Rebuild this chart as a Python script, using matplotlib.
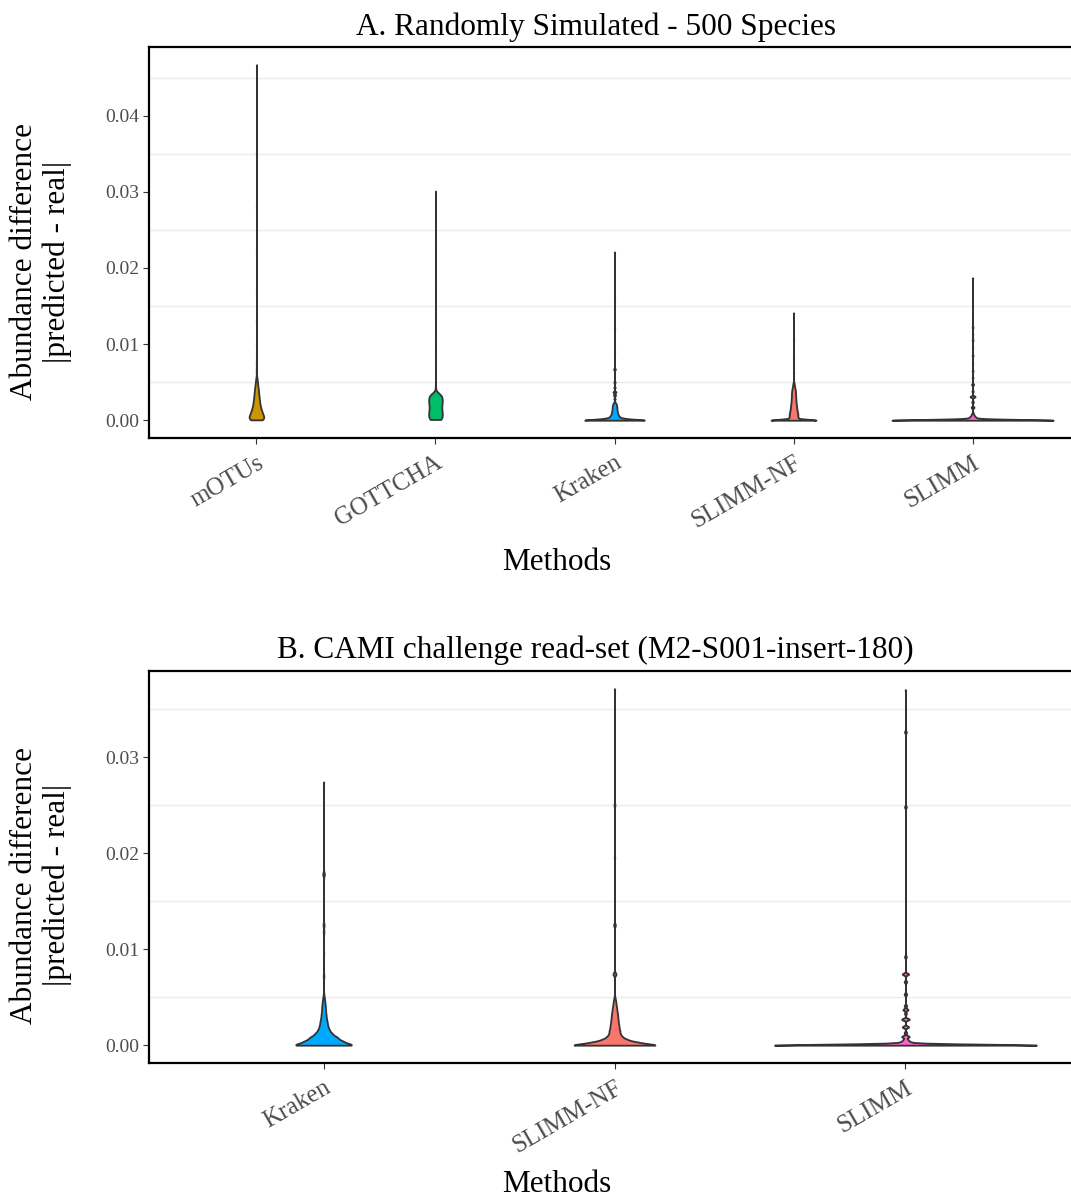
import numpy as np
import matplotlib
matplotlib.use("Agg")
import matplotlib.pyplot as plt
from matplotlib.transforms import ScaledTranslation

# Abundance differences |predicted - real|, stored as distinct values with counts.
# A. randomly simulated community (500 species)
SIM_METHODS = ["mOTUs", "GOTTCHA", "Kraken", "SLIMM-NF", "SLIMM"]

SIM_MOTUS_VALUES = [0.00005, 0.0005, 0.001, 0.0015, 0.002, 0.0025, 0.003, 0.0035,
                    0.004, 0.0045, 0.005, 0.0055, 0.0065, 0.0075, 0.0085, 0.010,
                    0.013, 0.017, 0.022, 0.028, 0.035, 0.0467]
SIM_MOTUS_COUNTS = [60, 70, 56, 44, 35, 30, 26, 22, 19, 14, 10, 6, 3, 2, 1, 1,
                    1, 1, 1, 1, 1, 1]

SIM_GOTTCHA_VALUES = [0.0001, 0.0006, 0.0011, 0.0016, 0.0021, 0.0026, 0.0031, 0.0035,
                      0.0045, 0.0055, 0.007, 0.0085, 0.011, 0.014, 0.018, 0.023, 0.0301]
SIM_GOTTCHA_COUNTS = [58, 66, 64, 58, 62, 66, 60, 28, 2, 1, 1, 1, 1, 1, 1, 1, 1]

SIM_KRAKEN_VALUES = [0.0, 0.0001, 0.0002, 0.0003, 0.0005, 0.0007, 0.0009, 0.0011,
                     0.0013, 0.0015, 0.0017, 0.0019, 0.0021, 0.0023, 0.0028, 0.0033,
                     0.0037, 0.0043, 0.005, 0.0067, 0.009, 0.012, 0.016, 0.0221]
SIM_KRAKEN_COUNTS = [125, 22, 22, 20, 19, 14, 12, 11, 10, 9, 9, 8, 7, 4, 3, 5,
                     7, 3, 3, 4, 1, 1, 1, 1]

SIM_SLIMMNF_VALUES = [0.0, 0.0004, 0.0007, 0.001, 0.0013, 0.0016, 0.0019, 0.0022,
                      0.0025, 0.0028, 0.0031, 0.0034, 0.0037, 0.004, 0.0043, 0.0046,
                      0.0049, 0.0062, 0.008, 0.0105, 0.0141]
SIM_SLIMMNF_COUNTS = [139, 26, 24, 23, 20, 18, 17, 15, 14, 13, 12, 12, 11, 10, 7, 5,
                      3, 1, 1, 1, 1]

SIM_SLIMM_VALUES = [0.0, 0.0002, 0.0004, 0.0006, 0.0008, 0.001, 0.0017, 0.0024,
                    0.0031, 0.0038, 0.0047, 0.0056, 0.0065, 0.0075, 0.0085, 0.0095,
                    0.0105, 0.0113, 0.0122, 0.0187]
SIM_SLIMM_COUNTS = [380, 22, 12, 7, 4, 2, 7, 4, 12, 3, 5, 2, 2, 1, 2, 1, 2, 1, 2, 1]

# B. CAMI challenge read-set
CAMI_METHODS = ["Kraken", "SLIMM-NF", "SLIMM"]

CAMI_KRAKEN_VALUES = [0.0, 0.0004, 0.0008, 0.0012, 0.0016, 0.002, 0.0024, 0.0028,
                      0.0032, 0.0036, 0.004, 0.0044, 0.0048, 0.0052, 0.0072, 0.0095,
                      0.0118, 0.0125, 0.0178, 0.0274]
CAMI_KRAKEN_COUNTS = [156, 93, 68, 42, 28, 21, 18, 14, 12, 10, 9, 7, 5, 2, 2, 1,
                      2, 3, 5, 1]

CAMI_SLIMMNF_VALUES = [0.0, 0.0003, 0.0006, 0.0009, 0.0012, 0.0015, 0.0018, 0.0021,
                       0.0024, 0.0027, 0.003, 0.0033, 0.0036, 0.0039, 0.0042, 0.0045,
                       0.0048, 0.0051, 0.0074, 0.0125, 0.0195, 0.025, 0.0371]
CAMI_SLIMMNF_COUNTS = [175, 85, 45, 28, 21, 20, 17, 16, 14, 13, 12, 11, 9, 8, 6, 5,
                       3, 1, 7, 4, 1, 2, 1]

CAMI_SLIMM_VALUES = [0.0, 0.0002, 0.0004, 0.0006, 0.0009, 0.0013, 0.0019, 0.0027,
                     0.0033, 0.0037, 0.0041, 0.0053, 0.0066, 0.0074, 0.0092, 0.0248,
                     0.0326, 0.037]
CAMI_SLIMM_COUNTS = [400, 20, 10, 6, 12, 4, 10, 12, 3, 8, 4, 4, 4, 10, 3, 3, 3, 1]

# kernel bandwidths per method
SIM_BW = [0.0003, 0.0003, 0.0001, 0.00013, 0.0001]
CAMI_BW = [0.0002, 0.00015, 0.0001]

COLORS = {"mOTUs": "#CD9600", "GOTTCHA": "#00BE67", "Kraken": "#00A9FF",
          "SLIMM-NF": "#F8766D", "SLIMM": "#FF61CC"}

plt.rcParams["font.family"] = ["Liberation Serif", "DejaVu Serif"]

W, H, DPI = 1071, 1198, 100


def density(values, counts, bw, n_grid=512):
    """Gaussian KDE on the data range (trimmed), like geom_violin."""
    v = np.asarray(values, float)
    c = np.asarray(counts, float)
    y = np.linspace(v.min(), v.max(), n_grid)
    k = np.exp(-0.5 * ((y[:, None] - v[None, :]) / bw) ** 2) / (bw * np.sqrt(2 * np.pi))
    n = c.sum()
    return y, (k * c).sum(axis=1) / n, n


def draw_panel(ax, methods, values, counts, bws):
    profiles = [density(v, c, b) for v, c, b in zip(values, counts, bws)]
    # scale = "count": width follows density * n, widest violin gets 0.45 each side
    top = max((d * n).max() for _, d, n in profiles)
    for i, (name, (y, d, n)) in enumerate(zip(methods, profiles)):
        half = 0.45 * d * n / top
        ax.fill_betweenx(y, i + 1 - half, i + 1 + half, facecolor=COLORS[name],
                         edgecolor="#333333", linewidth=1.3, zorder=3)

    ymax = max(max(v) for v in values)
    ax.set_ylim(-0.05 * ymax, 1.05 * ymax)
    ax.set_xlim(0.4, len(methods) + 0.6)
    ax.set_xticks(range(1, len(methods) + 1))
    ax.set_xticklabels(methods, rotation=30, ha="right", va="top",
                       rotation_mode="anchor", fontsize=18, color="#4D4D4D")
    shift = ScaledTranslation(11 / DPI, 0, ax.figure.dpi_scale_trans)
    for lab in ax.get_xticklabels():
        lab.set_transform(lab.get_transform() + shift)

    ticks = np.arange(0, ymax + 1e-9, 0.01)
    ax.set_yticks(ticks)
    ax.set_yticklabels([f"{t:.2f}" for t in ticks], fontsize=14, color="#4D4D4D")
    minor = np.arange(0.005, 1.05 * ymax, 0.01)
    for m in minor:
        ax.axhline(m, color="#EBEBEB", linewidth=1.0, zorder=1)

    ax.tick_params(axis="both", length=4, width=0.8, color="#333333", pad=3)
    ax.tick_params(axis="x", pad=6)
    for s in ax.spines.values():
        s.set_linewidth(1.6)
        s.set_color("black")


fig = plt.figure(figsize=(W / DPI, H / DPI), dpi=DPI)


def px_axes(left, top, right, bottom):
    return fig.add_axes([left / W, 1 - bottom / H, (right - left) / W, (bottom - top) / H])


ax_a = px_axes(149, 47, 1080, 438)
draw_panel(ax_a, SIM_METHODS,
           [SIM_MOTUS_VALUES, SIM_GOTTCHA_VALUES, SIM_KRAKEN_VALUES,
            SIM_SLIMMNF_VALUES, SIM_SLIMM_VALUES],
           [SIM_MOTUS_COUNTS, SIM_GOTTCHA_COUNTS, SIM_KRAKEN_COUNTS,
            SIM_SLIMMNF_COUNTS, SIM_SLIMM_COUNTS],
           SIM_BW)

ax_b = px_axes(149, 671, 1080, 1063)
draw_panel(ax_b, CAMI_METHODS,
           [CAMI_KRAKEN_VALUES, CAMI_SLIMMNF_VALUES, CAMI_SLIMM_VALUES],
           [CAMI_KRAKEN_COUNTS, CAMI_SLIMMNF_COUNTS, CAMI_SLIMM_COUNTS],
           CAMI_BW)


def fig_text(x, y, s, **kw):
    fig.text(x / W, 1 - y / H, s, ha="center", va="center", **kw)


fig_text(596, 27, "A. Randomly Simulated - 500 Species", fontsize=22.5)
fig_text(595, 650, "B. CAMI challenge read-set (M2-S001-insert-180)", fontsize=22.5)
for yc in (562, 1185):
    fig_text(557, yc, "Methods", fontsize=22.5)
for yc in (262, 885):
    fig_text(25, yc, "Abundance difference", fontsize=22.5, rotation=90)
    fig_text(57, yc, "|predicted - real|", fontsize=22.5, rotation=90)

fig.savefig("out.png", dpi=DPI)
